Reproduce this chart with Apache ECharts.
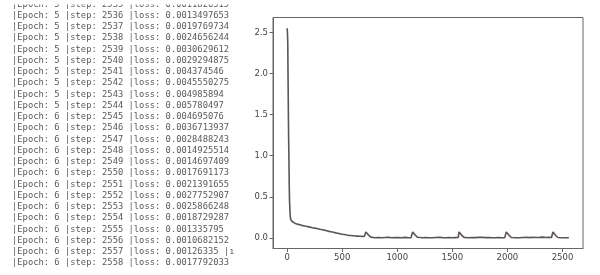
<!DOCTYPE html>
<html>
<head>
<meta charset="utf-8">
<script src="https://cdn.jsdelivr.net/npm/echarts@6/dist/echarts.min.js"></script>
<style>
html,body{margin:0;padding:0;background:#fff;}
#c{width:600px;height:275px;}
</style>
</head>
<body>
<div id="c"></div>
<script>
// ---- training log lines (left) ----
var logEpochs = [5,5,5,5,5,5,5,5,5,5,6,6,6,6,6,6,6,6,6,6,6,6,6,6];
var logSteps = [2535,2536,2537,2538,2539,2540,2541,2542,2543,2544,2545,2546,2547,2548,2549,2550,2551,2552,2553,2554,2555,2556,2557,2558];
var logLosses = ['0.0011826515','0.0013497653','0.0019769734','0.0024656244','0.0030629612','0.0029294875','0.004374546','0.0045550275','0.004985894','0.005780497','0.004695076','0.0036713937','0.0028488243','0.0014925514','0.0014697409','0.0017691173','0.0021391655','0.0027752907','0.0025866248','0.0018729287','0.001335795','0.0010682152','0.00126335 |ı','0.0017792033'];

// ---- loss curve (right) ----
var curveSteps = [0,3,6,8,10,12,14,16,18,20,22,24,26,28,32,38,45,55,70,85,100,120,140,160,180,200,215,230,250,270,285,300,320,340,360,380,400,420,440,460,480,500,520,540,560,580,600,620,640,660,680,700,708,715,722,730,740,750,760,775,800,830,860,890,920,950,980,1010,1040,1070,1100,1125,1133,1140,1147,1155,1165,1175,1185,1200,1230,1260,1290,1320,1350,1380,1410,1440,1470,1500,1530,1553,1561,1568,1576,1586,1596,1606,1620,1650,1680,1710,1740,1770,1800,1830,1860,1890,1920,1950,1975,1984,1990,1997,2005,2015,2025,2035,2050,2080,2110,2140,2170,2200,2230,2260,2290,2320,2350,2380,2400,2407,2413,2420,2428,2438,2448,2458,2475,2500,2530,2558];
var curveLoss = [2.55,2.50,2.38,2.05,1.75,1.45,1.20,1.02,0.80,0.60,0.44,0.40,0.33,0.27,0.23,0.21,0.20,0.19,0.18,0.175,0.165,0.16,0.15,0.145,0.14,0.135,0.14,0.125,0.12,0.115,0.12,0.105,0.10,0.095,0.088,0.08,0.075,0.07,0.062,0.058,0.05,0.045,0.042,0.036,0.032,0.03,0.027,0.024,0.022,0.02,0.019,0.018,0.02,0.072,0.065,0.05,0.035,0.02,0.01,0.004,0.003,0.006,0.002,0.005,0.008,0.003,0.006,0.004,0.002,0.007,0.003,0.004,0.008,0.072,0.065,0.05,0.033,0.018,0.008,0.003,0.002,0.005,0.003,0.002,0.006,0.009,0.004,0.003,0.006,0.002,0.004,0.005,0.074,0.066,0.05,0.032,0.017,0.007,0.002,0.003,0.006,0.004,0.007,0.008,0.004,0.006,0.003,0.002,0.005,0.003,0.004,0.01,0.073,0.066,0.05,0.032,0.016,0.006,0.002,0.003,0.002,0.005,0.008,0.004,0.009,0.005,0.007,0.01,0.006,0.008,0.006,0.012,0.072,0.064,0.048,0.03,0.015,0.006,0.003,0.002,0.003,0.0018];

var xTicks = [0,500,1000,1500,2000,2500];
var yTicks = [0,0.5,1.0,1.5,2.0,2.5];

var seriesData = curveSteps.map(function(s,i){ return [s, curveLoss[i]]; });

var graphics = logSteps.map(function(st,i){
  return {
    type:'text', z:1,
    style:{
      text:'|Epoch: '+logEpochs[i]+' |step: '+st+' |loss: '+logLosses[i],
      x:12, y:4.4 + i*11.25,
      fontFamily:'DejaVu Sans Mono', fontSize:8.8,
      fill:'#5a5a5a', verticalAlign:'middle', align:'left'
    }
  };
});
// top edge of the screenshot crops the first log line
graphics.push({type:'rect', z:10, shape:{x:0, y:0, width:245, height:4.5}, style:{fill:'#ffffff'}});

var chart = echarts.init(document.getElementById('c'), null, {renderer:'canvas'});
chart.setOption({
  backgroundColor:'#ffffff',
  animation:false,
  grid:{left:273, top:17.5, width:310, height:231, show:true, borderColor:'#666', borderWidth:1, containLabel:false},
  xAxis:{
    type:'value', min:-128, max:2686,
    axisLine:{show:true, onZero:false, lineStyle:{color:'#666', width:1}},
    axisTick:{show:true, customValues:xTicks, length:3.5, lineStyle:{color:'#666'}},
    axisLabel:{show:true, customValues:xTicks, margin:5, color:'#444', fontSize:8.5, fontFamily:'DejaVu Sans',
      formatter:function(v){return String(v);}},
    splitLine:{show:false}
  },
  yAxis:{
    type:'value', min:-0.128, max:2.68,
    axisLine:{show:true, onZero:false, lineStyle:{color:'#666', width:1}},
    axisTick:{show:true, customValues:yTicks, length:3.5, lineStyle:{color:'#666'}},
    axisLabel:{show:true, customValues:yTicks, margin:5, color:'#444', fontSize:8.5, fontFamily:'DejaVu Sans',
      formatter:function(v){return v.toFixed(1);}},
    splitLine:{show:false}
  },
  series:[{
    type:'line', data:seriesData, showSymbol:false, smooth:false,
    lineStyle:{color:'#5b5555', width:1.6}
  }],
  graphic:graphics
});
</script>
</body>
</html>
